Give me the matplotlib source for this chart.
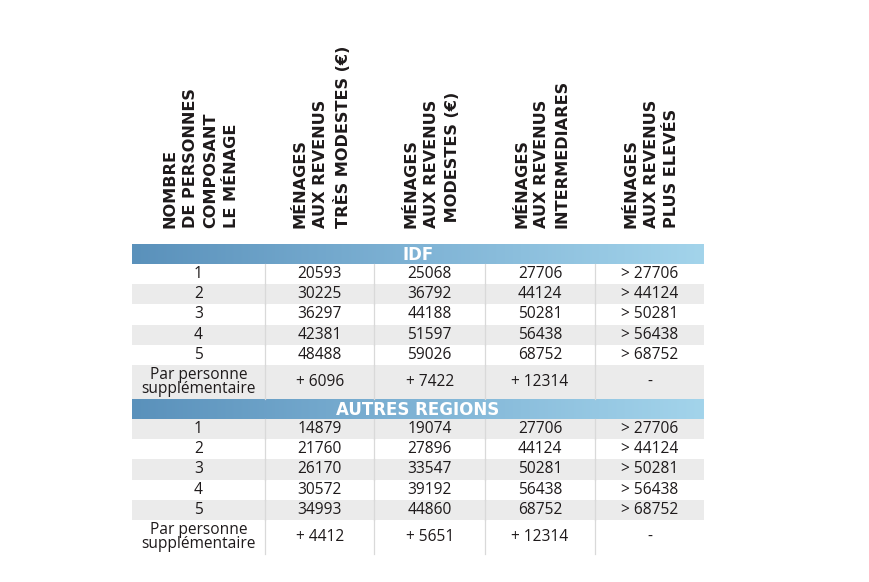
import numpy as np
import matplotlib
matplotlib.use("Agg")
import matplotlib.pyplot as plt
from matplotlib.patches import Rectangle
from matplotlib.colors import LinearSegmentedColormap

# ── data ──────────────────────────────────────────────────────────────────────
HEADERS = [
    "NOMBRE\nDE PERSONNES\nCOMPOSANT\nLE MÉNAGE",
    "MÉNAGES\nAUX REVENUS\nTRÈS MODESTES (€)",
    "MÉNAGES\nAUX REVENUS\n MODESTES (€)",
    "MÉNAGES\nAUX REVENUS\nINTERMEDIARES",
    "MÉNAGES\nAUX REVENUS\nPLUS ELEVÉS",
]
ROW_LABELS = ["1", "2", "3", "4", "5", "Par personne\nsupplémentaire"]

SECTIONS = ["IDF", "AUTRES REGIONS"]
IDF_TRES_MODESTES = ["20593", "30225", "36297", "42381", "48488", "+ 6096"]
IDF_MODESTES      = ["25068", "36792", "44188", "51597", "59026", "+ 7422"]
IDF_INTERMED      = ["27706", "44124", "50281", "56438", "68752", "+ 12314"]
IDF_ELEVES        = ["> 27706", "> 44124", "> 50281", "> 56438", "> 68752", "-"]
AR_TRES_MODESTES  = ["14879", "21760", "26170", "30572", "34993", "+ 4412"]
AR_MODESTES       = ["19074", "27896", "33547", "39192", "44860", "+ 5651"]
AR_INTERMED       = ["27706", "44124", "50281", "56438", "68752", "+ 12314"]
AR_ELEVES         = ["> 27706", "> 44124", "> 50281", "> 56438", "> 68752", "-"]

SECTION_COLS = [
    [IDF_TRES_MODESTES, IDF_MODESTES, IDF_INTERMED, IDF_ELEVES],
    [AR_TRES_MODESTES, AR_MODESTES, AR_INTERMED, AR_ELEVES],
]

# ── layout (pixels) ───────────────────────────────────────────────────────────
W, H = 870, 582
COL_EDGES = [132, 265, 374.5, 485, 595, 704]
HEADER_BOTTOM = 228
BAND_H = 19.5
ROW_H = 20.2
LAST_ROW_H = 34.5
TABLE_TOP = 244.5

GRAY = "#ebebeb"
DIVIDER = "#d9d9d9"
TEXT = "#1e1a1b"
band_cmap = LinearSegmentedColormap.from_list("band", ["#5a91bb", "#7fb3d5", "#a3d4eb"])

HEAD_FONT = "DejaVu Sans"
BODY_FONT = "Open Sans"

fig = plt.figure(figsize=(W / 100, H / 100), dpi=100)
ax = fig.add_axes([0, 0, 1, 1])
ax.set_xlim(0, W)
ax.set_ylim(H, 0)
ax.axis("off")

# header block
for i, head in enumerate(HEADERS):
    cx = (COL_EDGES[i] + COL_EDGES[i + 1]) / 2 + 2
    ax.text(cx, HEADER_BOTTOM, head, rotation=90, ha="center", va="bottom",
            ma="left", fontsize=11.6, fontweight="bold", family=HEAD_FONT,
            color=TEXT, linespacing=1.45)

x0, x1 = COL_EDGES[0], COL_EDGES[-1]
y = TABLE_TOP
stripe = 0
for s, section in enumerate(SECTIONS):
    # gradient band
    grad = np.linspace(0, 1, 256).reshape(1, -1)
    ax.imshow(grad, cmap=band_cmap, aspect="auto",
              extent=(x0, x1, y + BAND_H, y), zorder=1)
    ax.text((x0 + x1) / 2, y + BAND_H / 2 + 0.5, section, ha="center", va="center",
            fontsize=12, fontweight="bold", family=HEAD_FONT, color="white", zorder=3)
    y += BAND_H

    cols = SECTION_COLS[s]
    for r, label in enumerate(ROW_LABELS):
        rh = LAST_ROW_H if r == len(ROW_LABELS) - 1 else ROW_H
        if stripe % 2 == 1:
            ax.add_patch(Rectangle((x0, y), x1 - x0, rh, facecolor=GRAY,
                                   edgecolor="none", zorder=1))
        stripe += 1
        cells = [label] + [c[r] for c in cols]
        for c, val in enumerate(cells):
            cx = (COL_EDGES[c] + COL_EDGES[c + 1]) / 2
            ax.text(cx, y + rh / 2, val, ha="center", va="center",
                    fontsize=11.2, family=BODY_FONT, color=TEXT,
                    linespacing=0.82, zorder=3)
        for xe in COL_EDGES[1:-1]:
            ax.plot([xe, xe], [y, y + rh], color=DIVIDER, linewidth=0.9, zorder=2)
        y += rh
    stripe = 1  # second section starts with a gray row

ax.set_xlim(0, W)
ax.set_ylim(H, 0)
fig.savefig("out.png", dpi=100, facecolor="white")
